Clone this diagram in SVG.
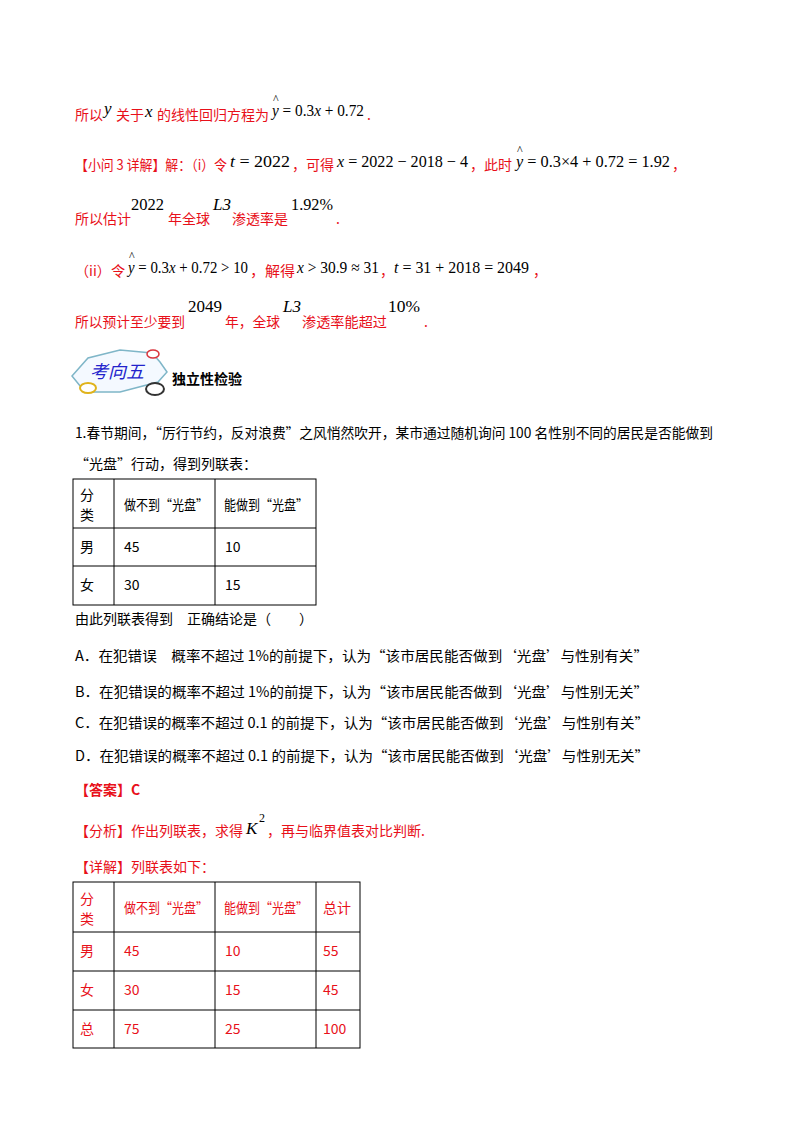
<svg xmlns="http://www.w3.org/2000/svg" width="800" height="1132" viewBox="0 0 800 1132">
<style>
.r{fill:#e8101a;font-family:"Noto Sans CJK SC","Liberation Serif",serif;font-size:14px}
.k{fill:#000;font-family:"Noto Sans CJK SC","Liberation Serif",serif;font-size:14px}
.m{fill:#000;font-family:"Liberation Serif",serif;font-size:17px}
.h{fill:#000;font-family:"Liberation Serif",serif;font-size:12px}
.mi{font-style:italic}
.b{font-weight:bold}
.g{stroke:#000;stroke-width:1;fill:none}
</style>
<rect width="800" height="1132" fill="#fff"/>
<g id="solution">
<text class="r" x="75" y="120">所以</text><text class="m mi" x="104" y="114">y</text><text class="r" x="116" y="120">关于</text><text class="m mi" x="145" y="117">x</text><text class="r" x="157" y="120" textLength="112" lengthAdjust="spacingAndGlyphs">的线性回归方程为</text>
<text class="m" x="272" y="116" textLength="92" lengthAdjust="spacingAndGlyphs"><tspan class="mi">y</tspan> = 0.3<tspan class="mi">x</tspan> + 0.72</text><text class="h" x="273" y="103">^</text><text class="r" x="367" y="120">.</text>

<text class="r" x="75" y="170" textLength="152" lengthAdjust="spacingAndGlyphs">【小问 3 详解】解：（i）令</text><text class="m" x="230" y="167" textLength="60" lengthAdjust="spacingAndGlyphs"><tspan class="mi">t</tspan> = 2022</text><text class="r" x="292" y="170" textLength="42" lengthAdjust="spacingAndGlyphs">，可得</text>
<text class="m" x="337" y="167" textLength="131" lengthAdjust="spacingAndGlyphs"><tspan class="mi">x</tspan> = 2022 − 2018 − 4</text>
<text class="r" x="470" y="170" textLength="42" lengthAdjust="spacingAndGlyphs">，此时</text>
<text class="m" x="516" y="167" textLength="154" lengthAdjust="spacingAndGlyphs"><tspan class="mi">y</tspan> = 0.3×4 + 0.72 = 1.92</text><text class="h" x="517" y="154">^</text><text class="r" x="672" y="170">，</text>

<text class="r" x="75" y="224" textLength="56" lengthAdjust="spacingAndGlyphs">所以估计</text><text class="m" x="131" y="210" textLength="33" lengthAdjust="spacingAndGlyphs">2022</text><text class="r" x="168" y="224" textLength="42" lengthAdjust="spacingAndGlyphs">年全球</text><text class="m mi" x="213" y="210">L3</text><text class="r" x="232" y="224" textLength="56" lengthAdjust="spacingAndGlyphs">渗透率是</text><text class="m" x="291" y="210" textLength="42" lengthAdjust="spacingAndGlyphs">1.92%</text><text class="r" x="336" y="224">.</text>

<text class="r" x="75" y="276" textLength="50" lengthAdjust="spacingAndGlyphs">（ii）令</text><text class="m" x="128" y="273" textLength="120" lengthAdjust="spacingAndGlyphs"><tspan class="mi">y</tspan> = 0.3<tspan class="mi">x</tspan> + 0.72 &gt; 10</text><text class="h" x="129" y="260">^</text><text class="r" x="250" y="276" textLength="45" lengthAdjust="spacingAndGlyphs">，解得</text>
<text class="m" x="297" y="273" textLength="82" lengthAdjust="spacingAndGlyphs"><tspan class="mi">x</tspan> &gt; 30.9 ≈ 31</text><text class="r" x="380" y="276">，</text><text class="m" x="394" y="273" textLength="135" lengthAdjust="spacingAndGlyphs"><tspan class="mi">t</tspan> = 31 + 2018 = 2049</text><text class="r" x="533" y="276">，</text>

<text class="r" x="75" y="327" textLength="110" lengthAdjust="spacingAndGlyphs">所以预计至少要到</text><text class="m" x="188" y="312" textLength="34" lengthAdjust="spacingAndGlyphs">2049</text><text class="r" x="225" y="327" textLength="55" lengthAdjust="spacingAndGlyphs">年，全球</text><text class="m mi" x="283" y="312">L3</text><text class="r" x="302" y="327" textLength="85" lengthAdjust="spacingAndGlyphs">渗透率能超过</text><text class="m" x="388" y="312" textLength="32" lengthAdjust="spacingAndGlyphs">10%</text><text class="r" x="424" y="327">.</text>
</g>
<g id="badge">
<polygon points="72,376 88,358 120,350 152,353 160,362 167,372 158,382 120,392 85,392" fill="#f4f9ff" stroke="#7fb6c8" stroke-width="1.5"/>
<ellipse cx="153" cy="354" rx="6" ry="4" fill="#fff" stroke="#d9343c" stroke-width="1.5"/>
<ellipse cx="88" cy="388" rx="8" ry="5" fill="#fff" stroke="#e0b31b" stroke-width="2"/>
<ellipse cx="155" cy="389" rx="9" ry="6" fill="#fff" stroke="#333" stroke-width="2"/>
<text x="90" y="378" fill="#2222cc" font-family="'Noto Sans CJK SC',serif" font-size="18" font-style="italic">考向五</text>
<text x="172" y="384" class="k b">独立性检验</text>
</g>
<g id="question">
<text class="k" x="75" y="438" textLength="638" lengthAdjust="spacingAndGlyphs">1.春节期间，“厉行节约，反对浪费”之风悄然吹开，某市通过随机询问 100 名性别不同的居民是否能做到</text>
<text class="k" x="75" y="469">“光盘”行动，得到列联表：</text>
</g>
<g id="table1">
<rect class="g" x="73" y="479" width="243" height="126"/>
<line class="g" x1="73" y1="528" x2="316" y2="528"/><line class="g" x1="73" y1="566" x2="316" y2="566"/>
<line class="g" x1="114" y1="479" x2="114" y2="605"/><line class="g" x1="215" y1="479" x2="215" y2="605"/>
<text class="k" x="80" y="500">分</text><text class="k" x="80" y="520">类</text>
<text class="k" x="124" y="510" textLength="84" lengthAdjust="spacingAndGlyphs">做不到“光盘”</text><text class="k" x="224" y="510" textLength="84" lengthAdjust="spacingAndGlyphs">能做到“光盘”</text>
<text class="k" x="80" y="552">男</text><text class="k" x="124" y="552">45</text><text class="k" x="225" y="552">10</text>
<text class="k" x="80" y="590">女</text><text class="k" x="124" y="590">30</text><text class="k" x="225" y="590">15</text>
</g>
<g id="options">
<text class="k" x="75" y="624">由此列联表得到　正确结论是（　　）</text>
<text class="k" x="75" y="661" textLength="573" lengthAdjust="spacingAndGlyphs">A．在犯错误　概率不超过 1%的前提下，认为“该市居民能否做到‘光盘’与性别有关”</text>
<text class="k" x="75" y="697" textLength="573" lengthAdjust="spacingAndGlyphs">B．在犯错误的概率不超过 1%的前提下，认为“该市居民能否做到‘光盘’与性别无关”</text>
<text class="k" x="75" y="728" textLength="574" lengthAdjust="spacingAndGlyphs">C．在犯错误的概率不超过 0.1 的前提下，认为“该市居民能否做到‘光盘’与性别有关”</text>
<text class="k" x="75" y="761" textLength="574" lengthAdjust="spacingAndGlyphs">D．在犯错误的概率不超过 0.1 的前提下，认为“该市居民能否做到‘光盘’与性别无关”</text>
<text class="r b" x="75" y="795">【答案】C</text>
<text class="r" x="75" y="836">【分析】作出列联表，求得</text><text class="m mi" x="246" y="834">K</text><text class="h" x="259" y="822">2</text><text class="r" x="267" y="836">，再与临界值表对比判断.</text>
<text class="r" x="75" y="872">【详解】列联表如下：</text>
</g>
<g id="table2">
<rect class="g" x="73" y="882" width="287" height="166"/>
<line class="g" x1="73" y1="932" x2="360" y2="932"/><line class="g" x1="73" y1="971" x2="360" y2="971"/><line class="g" x1="73" y1="1010" x2="360" y2="1010"/>
<line class="g" x1="114" y1="882" x2="114" y2="1048"/><line class="g" x1="215" y1="882" x2="215" y2="1048"/><line class="g" x1="316" y1="882" x2="316" y2="1048"/>
<text class="r" x="80" y="904">分</text><text class="r" x="80" y="924">类</text>
<text class="r" x="124" y="913" textLength="84" lengthAdjust="spacingAndGlyphs">做不到“光盘”</text><text class="r" x="224" y="913" textLength="84" lengthAdjust="spacingAndGlyphs">能做到“光盘”</text><text class="r" x="323" y="913">总计</text>
<text class="r" x="80" y="956">男</text><text class="r" x="124" y="956">45</text><text class="r" x="225" y="956">10</text><text class="r" x="323" y="956">55</text>
<text class="r" x="80" y="995">女</text><text class="r" x="124" y="995">30</text><text class="r" x="225" y="995">15</text><text class="r" x="323" y="995">45</text>
<text class="r" x="80" y="1034">总</text><text class="r" x="124" y="1034">75</text><text class="r" x="225" y="1034">25</text><text class="r" x="323" y="1034">100</text>
</g>
</svg>
